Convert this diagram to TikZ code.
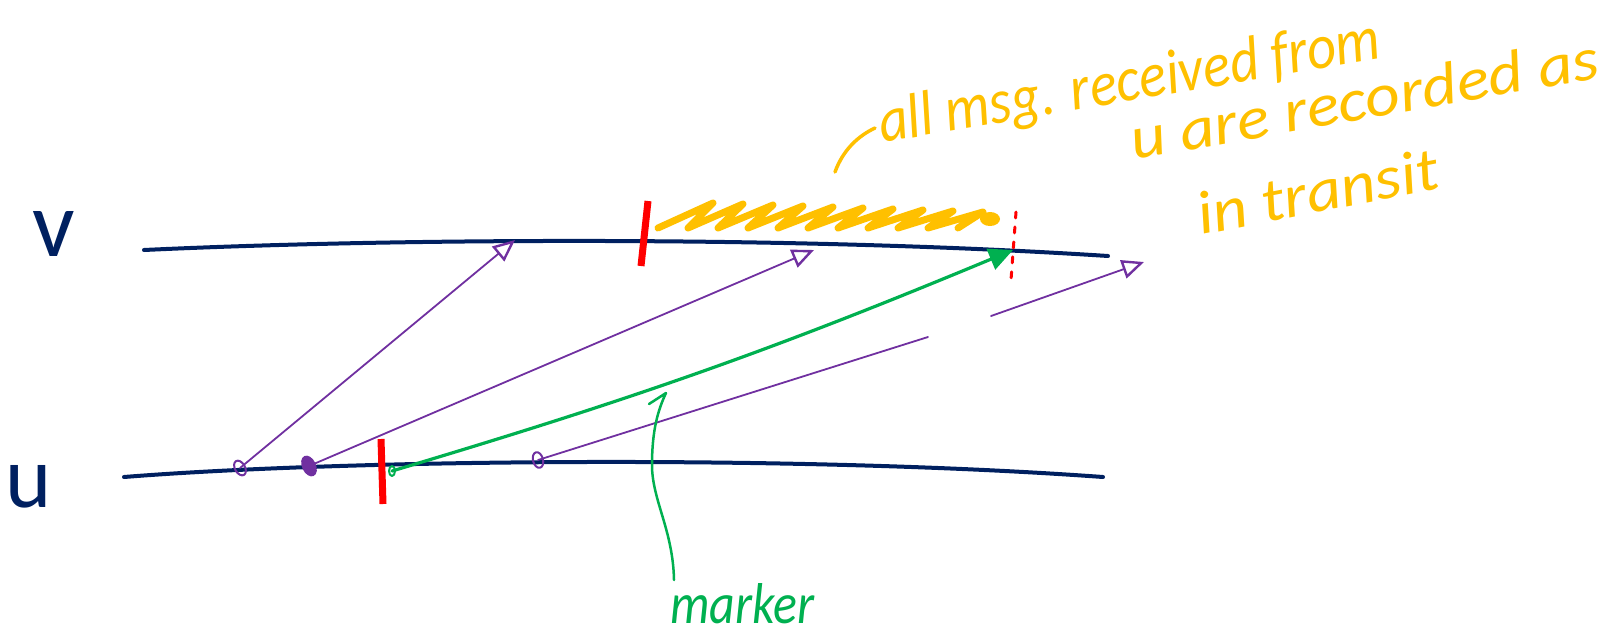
\documentclass[tikz,border=0pt]{standalone}
\usepackage{fontspec}
\usepackage{graphicx}
\usetikzlibrary{arrows.meta}
\newfontfamily\handfont{Carlito}
\definecolor{navy}{RGB}{0,32,96}
\definecolor{penpurple}{RGB}{112,48,160}
\definecolor{pengreen}{RGB}{0,176,80}
\definecolor{penyellow}{RGB}{255,192,0}
\definecolor{penred}{RGB}{255,0,0}
% stretch a handwritten line to a given width and cap height
\newcommand\penline[3]{\resizebox{#1}{#2}{#3}}
\newcommand\fith[2]{\resizebox{!}{#1}{#2}}

\begin{document}
\begin{tikzpicture}[x=1pt,y=-1pt,line cap=round,line join=round,
  timeline/.style={navy,line width=4pt},
  procname/.style={text=navy,inner sep=0pt,font=\handfont},
  msgline/.style={penpurple,line width=1.8pt},
  msgtip/.style={-{Triangle[open,length=22pt,width=19pt,line width=2.4pt]}},
  markerline/.style={pengreen,line width=3.2pt,
    -{Triangle[length=24pt,width=22pt]}},
  snapbar/.style={penred,line width=7pt,line cap=butt},
  cutline/.style={penred,line width=3pt,dash pattern=on 6pt off 9pt},
  hatch/.style={penyellow,line width=7pt},
  note/.style={text=penyellow,inner sep=0pt,anchor=base west,font=\handfont\itshape},
  greennote/.style={text=pengreen,inner sep=0pt,anchor=base west,font=\handfont\itshape},
  pointer/.style={pengreen,line width=2.5pt},
  sendmark/.style={penpurple,line width=2pt}]
\useasboundingbox (0,0) rectangle (1616,637);

% process time lines
\coordinate (v0) at (144,250);
\coordinate (v1) at (1108,256);
\coordinate (u0) at (124,477);
\coordinate (u1) at (1103,477);
\draw[timeline] (v0) .. controls (400,238) and (800,236) .. (v1);
\draw[timeline] (u0) .. controls (350,459) and (800,455) .. (u1);
\node[procname] (vname) at (54,234) {\fith{45pt}{v}};
\node[procname] (uname) at (29,487) {\fith{42pt}{u}};

% send events on u
\coordinate (s1) at (240,468);
\coordinate (s2) at (309,466);
\coordinate (sm) at (392,471);
\coordinate (s3) at (538,460);
% receive events on v
\coordinate (r1) at (515,240);
\coordinate (r2) at (814,250);
\coordinate (rm) at (1013,250);
\coordinate (r3) at (1144,262);
% the part of the third message not yet drawn
\coordinate (g1) at (928,337);
\coordinate (g2) at (991,316);

\draw[sendmark] (s1) ellipse [x radius=5,y radius=8,rotate=30];
\fill[penpurple] (s2) ellipse [x radius=7,y radius=11,rotate=25];
\draw[sendmark] (s3) ellipse [x radius=5,y radius=8,rotate=15];
\draw[pengreen,line width=2pt] (sm) ellipse [x radius=3,y radius=5];

% messages
\draw[msgline,msgtip] (s1) -- (r1);
\draw[msgline,msgtip] (s2) -- (r2);
\draw[msgline] (s3) -- (g1);
\draw[msgline,msgtip] (g2) -- (r3);
\draw[markerline] (sm) to[bend right=3] (rm);

% snapshot points
\draw[snapbar] (648,201) -- (641,266);
\draw[snapbar] (381,439) -- (383,504);
\draw[cutline] (1016,212) -- (1011,280);

% recorded channel state on v
\draw[hatch] (658,228)
  \foreach \i in {0,...,9} { -- ++(55,{-25+\i}) -- ++(-25,{25-\i}) };
\fill[penyellow] (990,219) ellipse [x radius=10,y radius=7];

% annotation
\coordinate (hookbot) at (835,172);
\coordinate (hooktop) at (875,128);
\draw[penyellow,line width=3.5pt] (hookbot) .. controls (843,150) and (858,136) .. (hooktop);
\node[note,rotate=9.6] (line1) at (882,143) {\penline{508pt}{44pt}{all msg. received from}};
\node[note,rotate=10] (line2) at (1134,160) {\penline{474pt}{42pt}{u are recorded as}};
\node[note,rotate=11] (line3) at (1201,235) {\penline{245pt}{42pt}{in transit}};

% marker label
\node[greennote] (mk) at (670,623) {\penline{144pt}{40pt}{marker}};
\coordinate (ptrbot) at (674,580);
\coordinate (ptrtop) at (666,393);
\coordinate (ptrhook) at (649,404);
\draw[pointer] (ptrbot) .. controls (673,530) and (652,500) .. (652,465)
  .. controls (652,430) and (658,410) .. (ptrtop) -- (ptrhook);
\end{tikzpicture}
\end{document}
